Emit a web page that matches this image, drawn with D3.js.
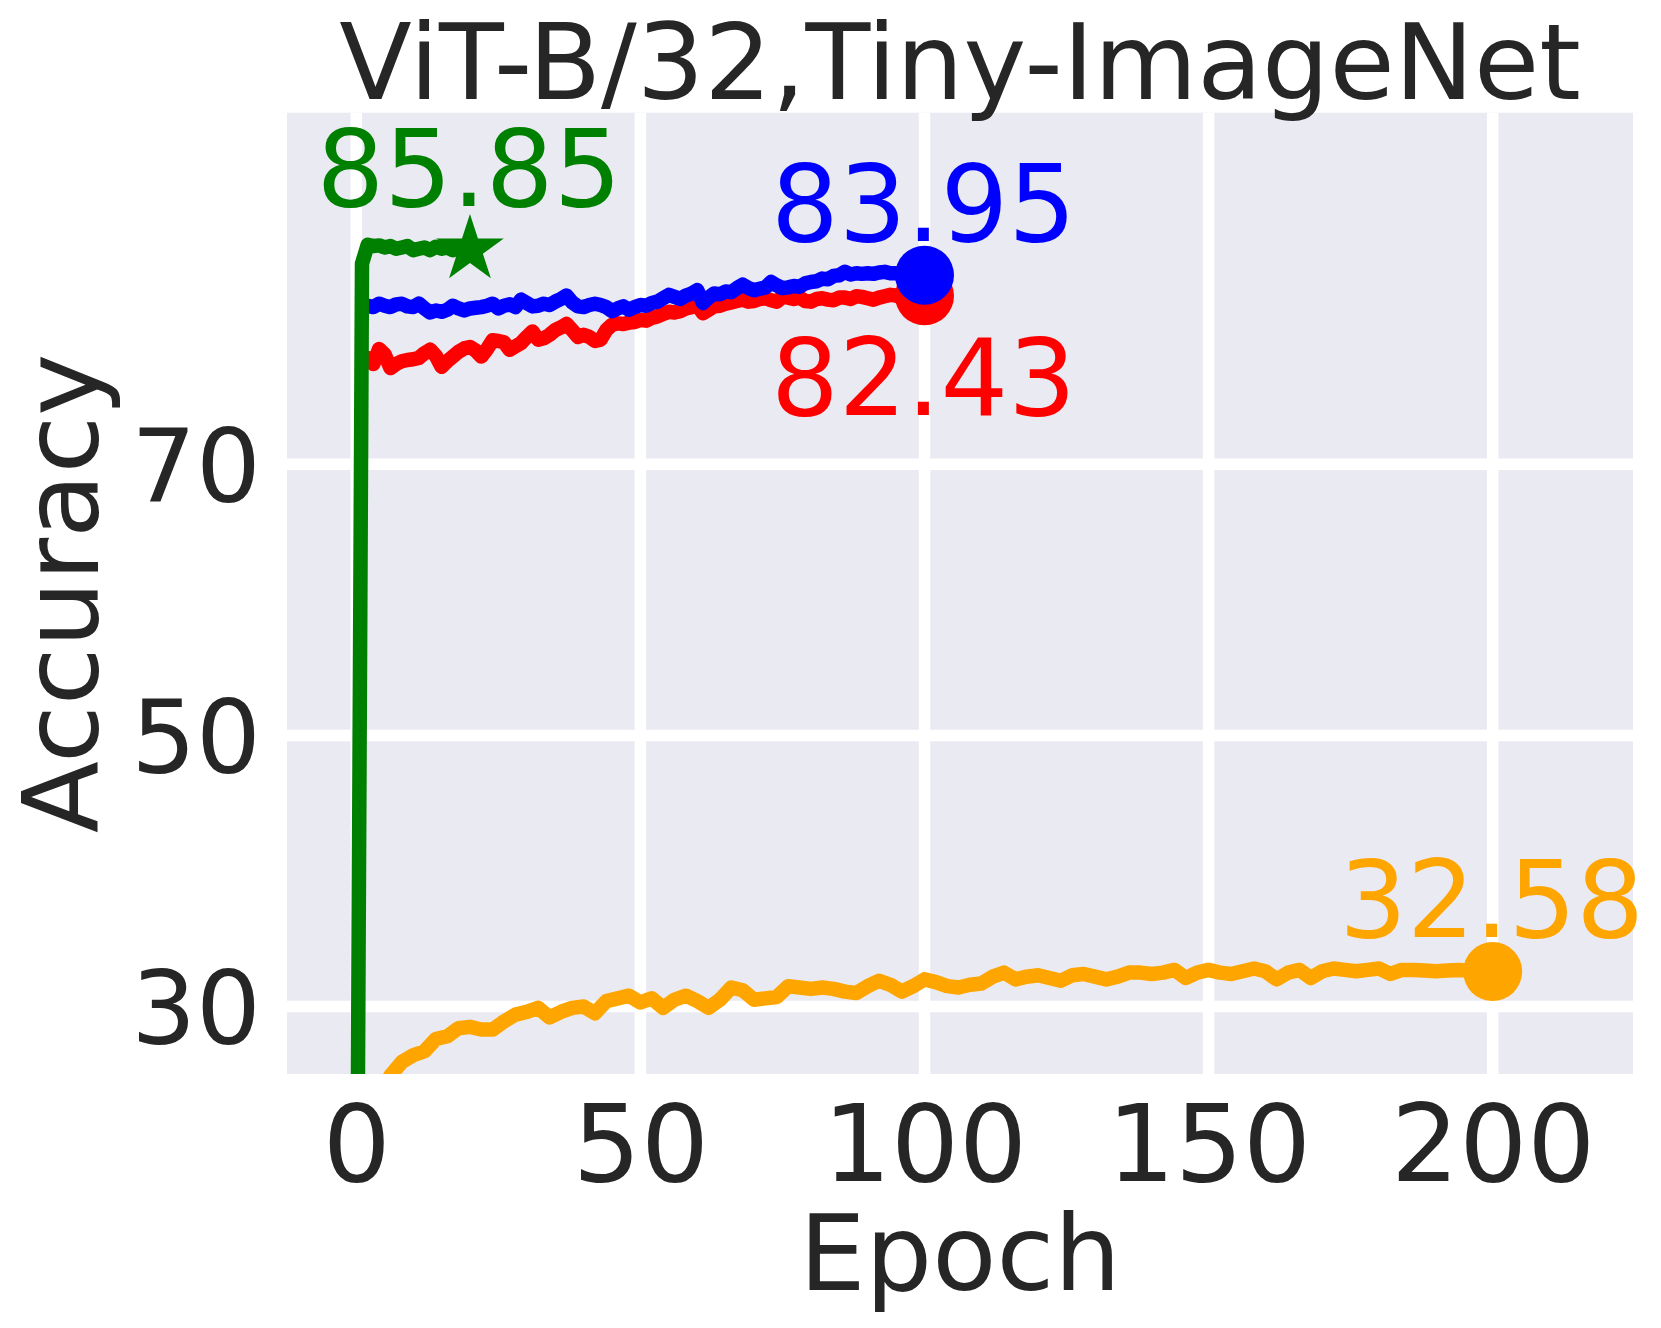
<!DOCTYPE html>
<html>
<head>
<meta charset="utf-8">
<script src="https://cdn.jsdelivr.net/npm/d3@7"></script>
<style>
  body { margin: 0; background: #fff; }
  text { font-family: "DejaVu Sans", sans-serif; }
</style>
</head>
<body>
<svg id="chart" width="1661" height="1328"></svg>
<script>
// tick values
var xTicks = [0, 50, 100, 150, 200];
var yTicks = [30, 50, 70];

// blue run, epochs 1..100
var blueVals = [81.6, 81.7, 81.6, 81.85, 81.7, 81.6, 81.8, 81.85, 81.65, 81.6,
  81.85, 81.5, 81.2, 81.35, 81.25, 81.4, 81.7, 81.5, 81.35, 81.5,
  81.55, 81.6, 81.7, 81.85, 81.5, 81.7, 81.8, 81.6, 82.15, 81.9,
  81.65, 81.7, 81.85, 81.75, 82.0, 82.2, 82.45, 81.95, 81.65, 81.6,
  81.75, 81.85, 81.75, 81.6, 81.3, 81.5, 81.65, 81.4, 81.6, 81.75,
  81.7, 81.9, 82.0, 82.25, 82.5, 82.35, 82.2, 82.45, 82.6, 82.85,
  81.9, 82.3, 82.6, 82.55, 82.75, 82.7, 83.0, 83.25, 83.0, 82.85,
  82.95, 83.05, 83.45, 83.2, 83.0, 83.05, 83.15, 83.1, 83.35, 83.45,
  83.5, 83.7, 83.65, 83.9, 83.95, 84.2, 84.0, 84.1, 84.05, 84.1,
  84.05, 84.15, 84.2, 84.1, 84.1, 84.0, 84.05, 83.95, 84.0, 83.95];

// red run, epochs 1..100
var redVals = [77.9, 77.85, 77.4, 78.5, 78.1, 77.1, 77.4, 77.6, 77.7, 77.75,
  77.85, 78.2, 78.45, 78.0, 77.2, 77.6, 77.95, 78.3, 78.55, 78.65,
  78.4, 77.95, 78.5, 79.15, 79.1, 79.0, 78.45, 78.7, 78.95, 79.4,
  79.8, 79.2, 79.3, 79.55, 79.9, 80.1, 80.35, 79.9, 79.4, 79.55,
  79.4, 79.1, 79.2, 79.9, 80.3, 80.4, 80.35, 80.45, 80.5, 80.65,
  80.6, 80.8, 80.9, 81.1, 81.25, 81.2, 81.3, 81.5, 81.6, 81.75,
  81.15, 81.4, 81.65, 81.7, 81.85, 81.95, 82.05, 82.15, 82.0, 82.05,
  82.2, 82.25, 82.1, 82.0, 82.35, 82.3, 82.2, 82.3, 82.05, 82.0,
  82.2, 82.25, 82.15, 82.1, 82.3, 82.3, 82.2, 82.4, 82.35, 82.25,
  82.15, 82.3, 82.4, 82.5, 82.45, 82.3, 82.4, 82.45, 82.4, 82.43];

// green run, epochs 0..20
var greenVals = [0.5, 84.8, 86.2, 86.1, 86.15, 86.0, 86.1, 85.9, 86.0, 86.1,
  85.8, 85.9, 86.0, 85.8, 86.05, 85.9, 86.0, 85.8, 86.0, 86.05, 85.85];

// orange run
var orangeEpochs = [1, 2, 4, 6, 8, 10, 12, 14, 16, 18, 20, 22, 24, 26, 28, 30,
  32, 34, 36, 38, 40, 42, 44, 46, 48, 50, 52, 54, 56, 58, 60, 62, 64, 66, 68, 70,
  72, 74, 76, 78, 80, 82, 84, 86, 88, 90, 92, 94, 96, 98, 100, 102, 104, 106, 108,
  110, 112, 114, 116, 118, 120, 122, 124, 126, 128, 130, 132, 134, 136, 138, 140,
  142, 144, 146, 148, 150, 152, 154, 156, 158, 160, 162, 164, 166, 168, 170, 172,
  174, 176, 178, 180, 182, 184, 186, 188, 190, 192, 194, 196, 198, 200];
var orangeVals = [18.0, 20.5, 23.0, 24.9, 25.9, 26.4, 26.7, 27.6, 27.8, 28.4,
  28.5, 28.3, 28.3, 28.9, 29.4, 29.6, 29.9, 29.2, 29.6, 29.9,
  30.0, 29.5, 30.4, 30.6, 30.8, 30.3, 30.6, 29.9, 30.5, 30.8,
  30.4, 29.9, 30.5, 31.4, 31.2, 30.5, 30.6, 30.7, 31.5, 31.4,
  31.3, 31.4, 31.3, 31.1, 31.0, 31.5, 31.9, 31.6, 31.1, 31.5,
  32.0, 31.8, 31.5, 31.4, 31.6, 31.7, 32.2, 32.5, 32.0, 32.2,
  32.3, 32.1, 31.9, 32.3, 32.4, 32.2, 32.0, 32.2, 32.5, 32.5,
  32.4, 32.5, 32.7, 32.1, 32.5, 32.7, 32.5, 32.4, 32.6, 32.8,
  32.6, 32.0, 32.5, 32.7, 32.1, 32.6, 32.8, 32.7, 32.6, 32.7,
  32.8, 32.4, 32.7, 32.7, 32.65, 32.6, 32.65, 32.7, 32.65, 32.6, 32.58];

var series = [
  {name: "red", color: "red", x: d3.range(1, 101), y: redVals, mark: "circle", label: "82.43", below: true},
  {name: "blue", color: "blue", x: d3.range(1, 101), y: blueVals, mark: "circle", label: "83.95", below: false},
  {name: "orange", color: "orange", x: orangeEpochs, y: orangeVals, mark: "circle", label: "32.58", below: false},
  {name: "green", color: "green", x: d3.range(0, 21), y: greenVals, mark: "star", label: "85.85", below: false}
];

var svg = d3.select("#chart");
var pLeft = 287, pRight = 1633, pTop = 112.7, pBottom = 1074;
var x = d3.scaleLinear().domain([-12.2, 224.7]).range([pLeft, pRight]);
var y = d3.scaleLinear().domain([25.02, 95.94]).range([pBottom, pTop]);
var ink = "#262626";

svg.append("rect").attr("x", pLeft).attr("y", pTop)
  .attr("width", pRight - pLeft).attr("height", pBottom - pTop)
  .attr("fill", "#eaeaf2");

svg.append("clipPath").attr("id", "clip").append("rect")
  .attr("x", pLeft).attr("y", pTop).attr("width", pRight - pLeft).attr("height", pBottom - pTop);

// grid
svg.append("g").selectAll("line").data(xTicks).enter().append("line")
  .attr("x1", function(d) { return x(d) }).attr("x2", function(d) { return x(d) })
  .attr("y1", pTop).attr("y2", pBottom)
  .attr("stroke", "#fff").attr("stroke-width", 11.5);
svg.append("g").selectAll("line").data(yTicks).enter().append("line")
  .attr("y1", function(d) { return y(d) }).attr("y2", function(d) { return y(d) })
  .attr("x1", pLeft).attr("x2", pRight)
  .attr("stroke", "#fff").attr("stroke-width", 11.5);

// axes, labels only
var xAxis = svg.append("g").attr("transform", "translate(0," + pBottom + ")")
  .call(d3.axisBottom(x).tickValues(xTicks).tickSize(0).tickPadding(0));
xAxis.select(".domain").remove();
xAxis.selectAll("text").attr("fill", ink).attr("font-size", 107)
  .attr("y", 107).attr("dy", 0).style("font-family", "DejaVu Sans");

var yAxis = svg.append("g").attr("transform", "translate(" + pLeft + ",0)")
  .call(d3.axisLeft(y).tickValues(yTicks).tickSize(0).tickPadding(0));
yAxis.select(".domain").remove();
yAxis.selectAll("text").attr("fill", ink).attr("font-size", 102)
  .attr("x", -26).attr("dy", "0.36em").style("font-family", "DejaVu Sans");

// lines
var plot = svg.append("g");
var lineGen = d3.line()
  .x(function(d) { return x(d[0]) })
  .y(function(d) { return y(d[1]) });

series.forEach(function(s) {
  var pts = s.x.map(function(e, i) { return [e, s.y[i]] });
  plot.append("path").datum(pts)
    .attr("clip-path", "url(#clip)")
    .attr("d", lineGen)
    .attr("fill", "none")
    .attr("stroke", s.color)
    .attr("stroke-width", 14.5)
    .attr("stroke-linejoin", "round")
    .attr("stroke-linecap", "butt");
  var last = pts[pts.length - 1];
  if (s.mark == "star") {
    plot.append("path")
      .attr("d", d3.symbol().type(d3.symbolStar).size(1420)())
      .attr("transform", "translate(" + x(last[0]) + "," + y(last[1]) + ")")
      .attr("fill", s.color);
  } else {
    plot.append("circle")
      .attr("cx", x(last[0])).attr("cy", y(last[1]))
      .attr("r", 29.5).attr("fill", s.color);
  }
  var off = s.below ? 119 : (s.mark == "star" ? -43 : -34.5);
  svg.append("text")
    .attr("x", x(last[0]) - 1).attr("y", y(last[1]) + off)
    .attr("text-anchor", "middle")
    .attr("font-size", 106.5)
    .attr("fill", s.color)
    .text(s.label);
});

// titles
svg.append("text").attr("x", (pLeft + pRight) / 2).attr("y", 98.5)
  .attr("text-anchor", "middle").attr("font-size", 106).attr("fill", ink)
  .text("ViT-B/32,Tiny-ImageNet");
svg.append("text").attr("x", (pLeft + pRight) / 2).attr("y", 1290)
  .attr("text-anchor", "middle").attr("font-size", 105).attr("fill", ink)
  .text("Epoch");
svg.append("text")
  .attr("transform", "translate(97.5," + (pTop + pBottom) / 2 + ") rotate(-90)")
  .attr("text-anchor", "middle").attr("font-size", 105).attr("fill", ink)
  .text("Accuracy");
</script>
</body>
</html>
